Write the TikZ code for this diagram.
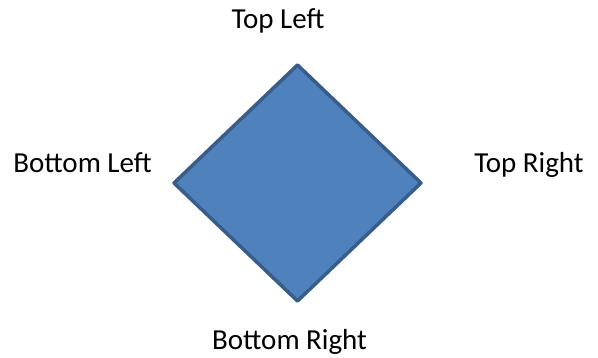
\documentclass[tikz,border=0pt]{standalone}
\usepackage{fontspec}
\setmainfont{Carlito}
\usepackage{xcolor}
\usepackage{tikz}
\definecolor{shapefill}{HTML}{4F81BD}
\definecolor{shapeline}{HTML}{385D8A}
\tikzset{corner/.style={anchor=base,font=\fontsize{29}{34}\selectfont}}

\begin{document}
\begin{tikzpicture}[x=1pt,y=-1pt]
\useasboundingbox (0,0) rectangle (598,358);
\coordinate (top) at (297.5,65);
\coordinate (right) at (421,183);
\coordinate (bottom) at (297.5,301);
\coordinate (left) at (174,183);
\draw[shapeline,fill=shapefill,line width=3.5pt,line join=round] (top) -- (right) -- (bottom) -- (left) -- cycle;
\node[corner] (tl) at (278,29) {Top Left};
\node[corner] (bl) at (82.5,173) {Bottom Left};
\node[corner] (tr) at (529,173) {Top Right};
\node[corner] (br) at (289.5,350) {Bottom Right};
\end{tikzpicture}
\end{document}
